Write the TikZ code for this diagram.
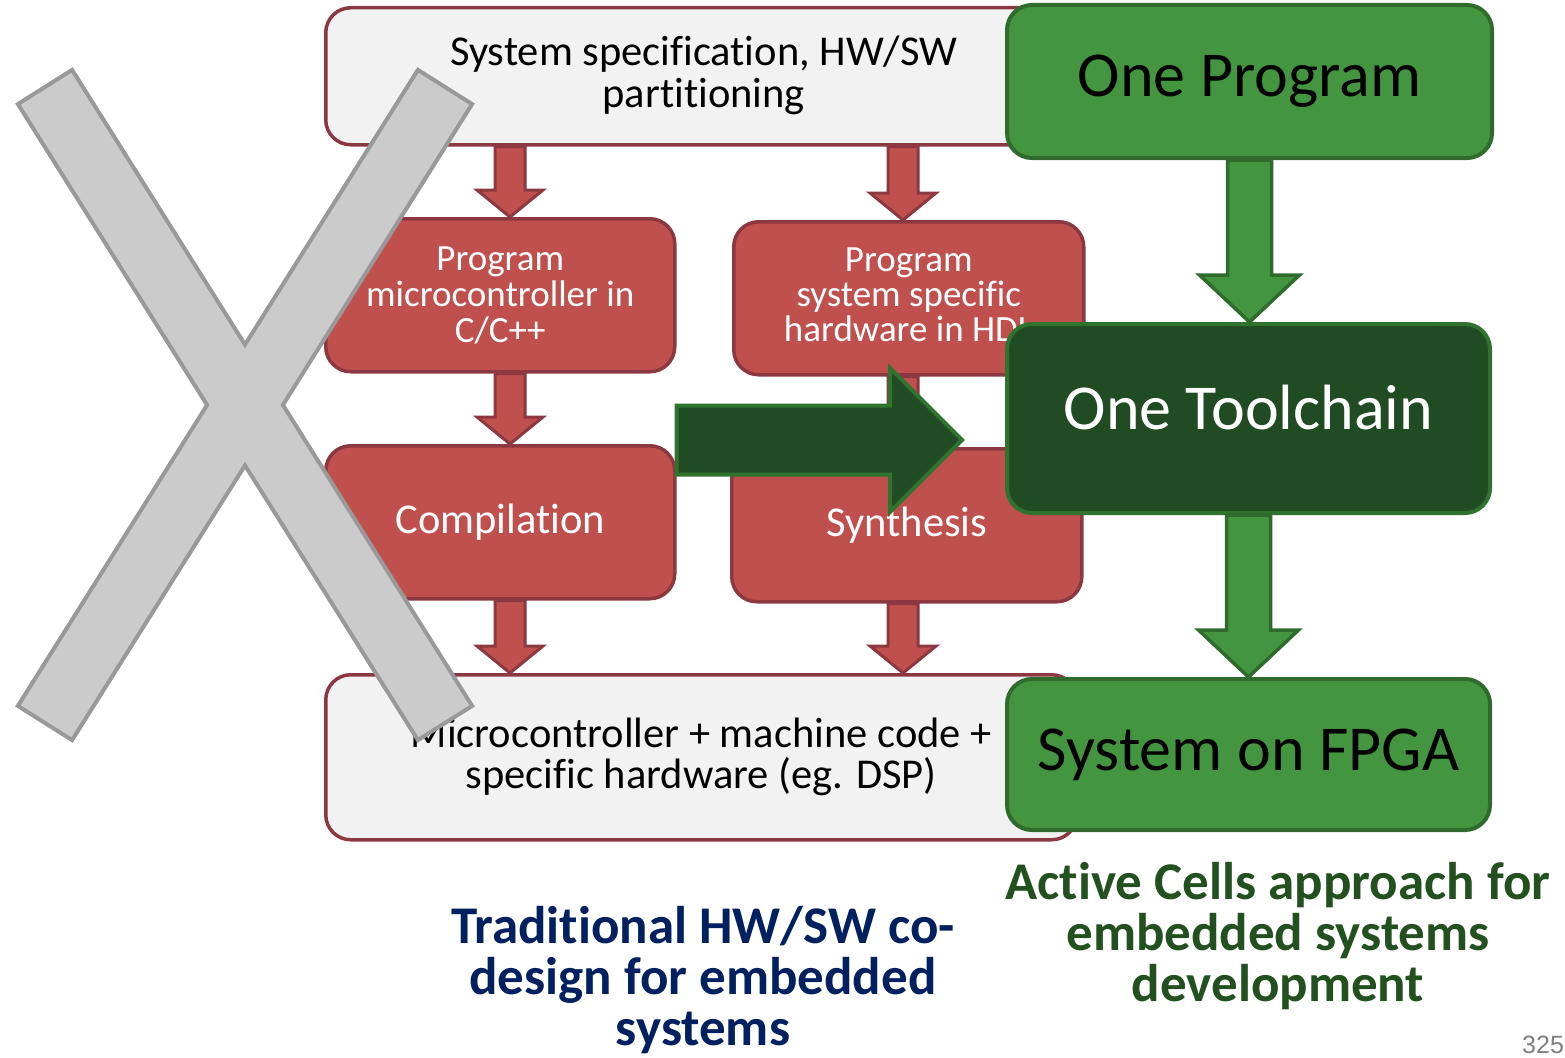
\documentclass[tikz,border=0pt]{standalone}
\usepackage{fontspec}
\setmainfont{Carlito}[Ligatures=NoCommon]
\newfontfamily\arialfont{Liberation Sans}
\usetikzlibrary{calc}
\definecolor{redfill}{HTML}{C0504D}
\definecolor{redline}{HTML}{8C3841}
\definecolor{greyfill}{HTML}{F2F2F2}
\definecolor{gfill}{HTML}{43963F}
\definecolor{gline}{HTML}{2E6B2C}
\definecolor{dgfill}{HTML}{214B22}
\definecolor{dgline}{HTML}{2F732E}
\definecolor{xfill}{HTML}{CBCBCB}
\definecolor{xline}{HTML}{999999}
\definecolor{navy}{HTML}{002060}
\definecolor{textgreen}{HTML}{23501F}
\newcommand\blockdown[6]{%
  \draw[#6] ($(#1)+(-#3,0)$) -- ($(#2)+(-#3,-#5)$) -- ($(#2)+(-#4,-#5)$) -- (#2)
    -- ($(#2)+(#4,-#5)$) -- ($(#2)+(#3,-#5)$) -- ($(#1)+(#3,0)$) -- cycle;}
\newcommand\blockright[6]{%
  \draw[#6] ($(#1)+(0,-#3)$) -- ($(#2)+(-#5,-#3)$) -- ($(#2)+(-#5,-#4)$) -- (#2)
    -- ($(#2)+(-#5,#4)$) -- ($(#2)+(-#5,#3)$) -- ($(#1)+(0,#3)$) -- cycle;}
\begin{document}
\begin{tikzpicture}[x=1pt,y=-1pt,
  base/.style={anchor=north west, align=center, inner sep=0pt, rounded corners=25pt},
  specbox/.style={base, draw=redline, fill=greyfill, line width=3.5pt, text=black},
  redbox/.style={base, draw=redline, fill=redfill, line width=3.5pt, text=white},
  greenbox/.style={base, draw=gline, fill=gfill, line width=4pt, text=black,
    font=\fontsize{64}{66}\selectfont},
  darkbox/.style={base, draw=dgline, fill=dgfill, line width=4pt, text=white,
    font=\fontsize{64}{66}\selectfont},
  redarrow/.style={draw=redline, fill=redfill, line width=3pt, line join=miter},
  greenarrow/.style={draw=gline, fill=gfill, line width=3.5pt, line join=miter},
  bigarrow/.style={draw=dgline, fill=dgfill, line width=4pt, line join=miter},
  caption/.style={align=center, inner sep=0pt, font=\bfseries\fontsize{53}{51}\selectfont}
]
\useasboundingbox[fill=white] (0,0) rectangle (1565,1057);

% traditional flow
\node[specbox, minimum width=756pt, minimum height=137pt, font=\fontsize{42.5}{42}\selectfont,
  text depth=9pt] (spec) at (324,6)
  {System specification, HW/SW\\partitioning};
\node[redbox, minimum width=349pt, minimum height=153pt, font=\fontsize{37}{36}\selectfont] (micro) at (324,217)
  {Program\\microcontroller in\\C/C++};
\node[redbox, minimum width=350pt, minimum height=153pt, font=\fontsize{37}{35}\selectfont,
  text depth=8pt] (hdl) at (732,220)
  {Program\\system specific\\hardware in HDL};
\node[redbox, minimum width=349pt, minimum height=153pt, font=\fontsize{42.5}{44}\selectfont] (comp) at (324,444)
  {Compilation};
\node[redbox, minimum width=350pt, minimum height=153pt, font=\fontsize{42.5}{44}\selectfont] (synth) at (730,447)
  {Synthesis};
\node[specbox, minimum width=751pt, minimum height=165pt, font=\fontsize{42.5}{41}\selectfont] (hw) at (324,673)
  {Microcontroller + machine code +\\specific hardware (eg. DSP)};

\coordinate (cl) at (510,0);
\coordinate (cr) at (903,0);
\blockdown{spec.south -| cl}{micro.north -| cl}{15}{33}{27}{redarrow}
\blockdown{spec.south -| cr}{hdl.north -| cr}{15}{33}{27}{redarrow}
\blockdown{micro.south -| cl}{comp.north -| cl}{15}{33}{27}{redarrow}
\blockdown{hdl.south -| cr}{synth.north -| cr}{15}{33}{27}{redarrow}
\blockdown{comp.south -| cl}{hw.north -| cl}{15}{33}{27}{redarrow}
\blockdown{synth.south -| cr}{hw.north -| cr}{15}{33}{27}{redarrow}

% active cells flow
\node[greenbox, minimum width=485pt, minimum height=153pt] (prog) at (1005,3) {One Program};
\node[darkbox, minimum width=483pt, minimum height=189pt, text depth=22pt] (tool) at (1005,322) {One Toolchain};
\node[greenbox, minimum width=483pt, minimum height=151pt] (fpga) at (1005,677) {System on FPGA};

\blockdown{prog.south}{tool.north -| prog.south}{22}{50}{47}{greenarrow}
\blockdown{tool.south}{fpga.north -| tool.south}{22}{50}{47}{greenarrow}

\coordinate (bigE) at (962,440);
\blockright{comp.east |- bigE}{bigE}{34.5}{72}{72}{bigarrow}

% cross
\draw[fill=xfill, draw=xline, line width=4pt, line join=miter]
  (17.9,104.1) -- (72.1,69.9) -- (245,344.6) -- (417.9,69.9) -- (472.1,104.1)
  -- (282.9,405) -- (472.1,705.9) -- (417.9,740.1) -- (245,465.4)
  -- (72.1,740.1) -- (17.9,705.9) -- (207.1,405) -- cycle;

% captions
\node[caption, text=navy] (trad) at (703,980)
  {Traditional HW/SW co-\\design for embedded\\systems};
\node[caption, text=textgreen] (ac) at (1278,936)
  {Active Cells approach for\\embedded systems\\development};
\node[anchor=base west, inner sep=0pt, text=black!50, font=\arialfont\fontsize{25}{25}\selectfont] (pg) at (1522,1053) {325};
\end{tikzpicture}
\end{document}
